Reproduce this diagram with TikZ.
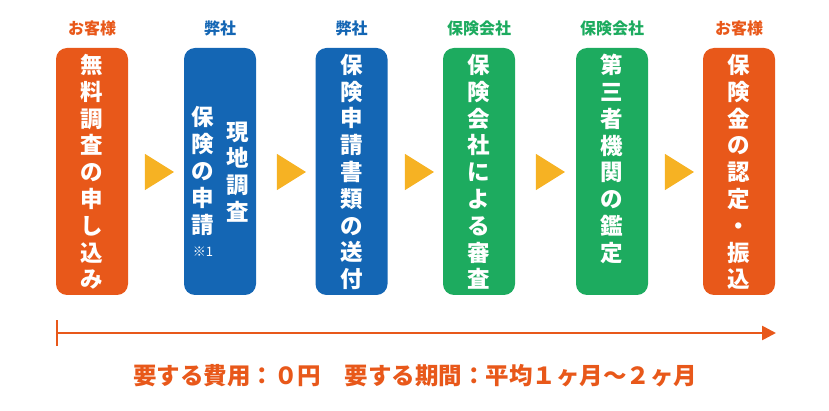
\documentclass[tikz,border=0pt]{standalone}
\usepackage{fontspec}
\setmainfont{Noto Sans CJK JP}
\usetikzlibrary{shapes.geometric,arrows.meta}
\definecolor{cOrange}{HTML}{E8581A}
\definecolor{cBlue}{HTML}{1466B4}
\definecolor{cGreen}{HTML}{1DAB5F}
\definecolor{cYellow}{HTML}{F6B223}
\tikzset{
  stepbox/.style={rectangle, rounded corners=11pt, minimum width=72pt, minimum height=247pt, inner sep=0pt},
  vtext/.style={white, align=center, font=\fontsize{22.5}{26.8}\selectfont\bfseries, inner sep=0pt},
  who/.style={font=\fontsize{16}{18}\selectfont\bfseries, inner sep=0pt},
  tri/.style={isosceles triangle, isosceles triangle apex angle=64, fill=cYellow, minimum height=29pt, inner sep=0pt},
  flow/.style={-{Triangle[length=14pt,width=14pt]}, draw=cOrange, line width=2.6pt}
}
\begin{document}
\begin{tikzpicture}[x=1pt,y=-1pt]
  \useasboundingbox (0,0) rectangle (829,411);

  %The boxes
  \node[stepbox, fill=cOrange] (b1) at (92,171.5) {};
  \node[stepbox, fill=cBlue] (b2) at (220,171.5) {};
  \node[stepbox, fill=cBlue] (b3) at (351.5,171.5) {};
  \node[stepbox, fill=cGreen] (b4) at (479,171.5) {};
  \node[stepbox, fill=cGreen] (b5) at (612,171.5) {};
  \node[stepbox, fill=cOrange] (b6) at (739,171.5) {};

  %Who does it
  \node[who, cOrange] (w1) at (92,28) {お客様};
  \node[who, cBlue] (w2) at (220,28) {弊社};
  \node[who, cBlue] (w3) at (351.5,28) {弊社};
  \node[who, cGreen] (w4) at (479,28) {保険会社};
  \node[who, cGreen] (w5) at (612,28) {保険会社};
  \node[who, cOrange] (w6) at (739,28) {お客様};

  %The vertical texts
  \node[vtext] (t1) at (92,172) {無\\料\\調\\査\\の\\申\\し\\込\\み};
  \node[vtext] (t2a) at (238,172) {現\\地\\調\\査};
  \node[vtext] (t2b) at (203,171) {保\\険\\の\\申\\請};
  \node[white, font=\fontsize{13}{14}\selectfont, inner sep=0pt] (n2) at (203,252) {※1};
  \node[vtext] (t3) at (351.5,172) {保\\険\\申\\請\\書\\類\\の\\送\\付};
  \node[vtext] (t4) at (479,172) {保\\険\\会\\社\\に\\よ\\る\\審\\査};
  \node[vtext] (t5) at (612,159) {第\\三\\者\\機\\関\\の\\鑑\\定};
  \node[vtext] (t6) at (739,172) {保\\険\\金\\の\\認\\定\\・\\振\\込};

  %The triangles
  \node[tri] (a1) at (155,172) {};
  \node[tri] (a2) at (287,172) {};
  \node[tri] (a3) at (415,172) {};
  \node[tri] (a4) at (546,172) {};
  \node[tri] (a5) at (675,172) {};

  %The bottom arrow
  \coordinate (s) at (57,333);
  \coordinate (e) at (776,333);
  \draw[flow] (s) -- (e);
  \draw[draw=cOrange, line width=2.6pt] ([yshift=-13pt]s) -- ([yshift=13pt]s);
  \node[cOrange, font=\fontsize{23.5}{26}\selectfont\bfseries, inner sep=0pt] (cost) at (415,376)
    {要する費用：０円　要する期間：平均１ヶ月〜２ヶ月};
\end{tikzpicture}
\end{document}
